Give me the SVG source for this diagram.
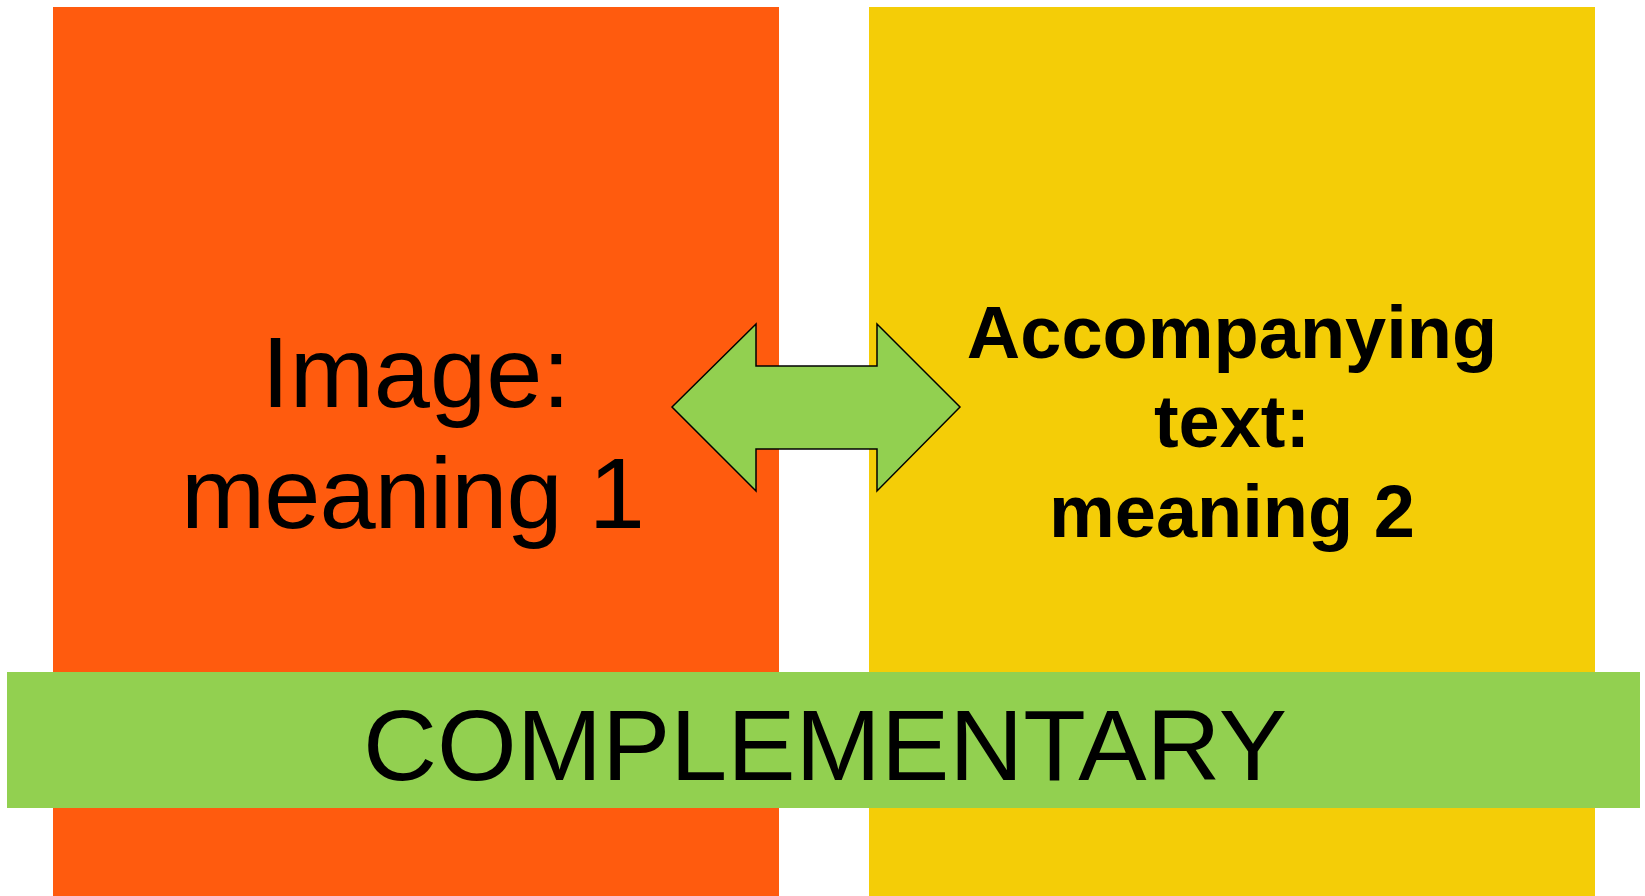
<svg xmlns="http://www.w3.org/2000/svg" width="1645" height="896" viewBox="0 0 1645 896">
<style>
.t{font-family:"Liberation Sans",Arial,sans-serif;fill:#000;text-anchor:middle}
.b{font-weight:bold}
</style>
<rect width="1645" height="896" fill="#fff"/>
<g id="image-node">
<rect x="53" y="7" width="726" height="889" fill="#FF5B0E"/>
<text class="t" x="416" y="407" font-size="101">Image:</text>
<text class="t" x="413" y="528" font-size="101" textLength="464" lengthAdjust="spacing">meaning 1</text>
</g>
<g id="text-node">
<rect x="869" y="7" width="726" height="889" fill="#F4CD07"/>
<text class="t b" x="1232" y="358" font-size="74">Accompanying</text>
<text class="t b" x="1232" y="447" font-size="74">text:</text>
<text class="t b" x="1232" y="537" font-size="74">meaning 2</text>
</g>
<g id="connectors">
<polygon points="672,407 756,324 756,366 877,366 877,324 960,407 877,491 877,449 756,449 756,491" fill="#92D050" stroke="#000" stroke-width="1.5" stroke-linejoin="miter"/>
</g>
<g id="complementary">
<rect x="7" y="672" width="1633" height="136" fill="#92D050"/>
<text class="t" x="825" y="780" font-size="101" textLength="924" lengthAdjust="spacingAndGlyphs">COMPLEMENTARY</text>
</g>
</svg>
